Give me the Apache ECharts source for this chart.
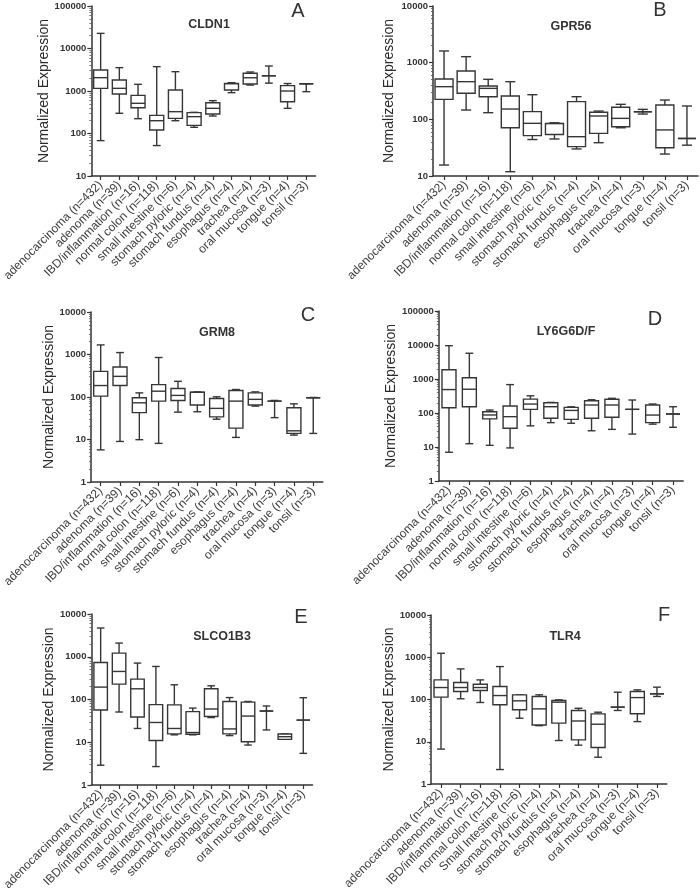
<!DOCTYPE html>
<html>
<head>
<meta charset="utf-8">
<script src="https://cdn.jsdelivr.net/npm/echarts@6/dist/echarts.min.js"></script>
<style>
html,body{margin:0;padding:0;background:#fff;}
#chart{width:700px;height:896px;}
</style>
</head>
<body>
<div id="chart"></div>
<script>
// ---- Categories ----
const categories = ['adenocarcinoma (n=432)','adenoma (n=39)','IBD/inflammation (n=16)','normal colon (n=118)','small intestine (n=6)','stomach pyloric (n=4)','stomach fundus (n=4)','esophagus (n=4)','trachea (n=4)','oral mucosa (n=3)','tongue (n=4)','tonsil (n=3)'];
const categoriesF = ['adenocarcinoma (n=432)','adenoma (n=39)','IBD/inflammation (n=16)','normal colon (n=118)','Small Intestine (n=6)','stomach pyloric (n=4)','stomach fundus (n=4)','esophagus (n=4)','trachea (n=4)','oral mucosa (n=3)','tongue (n=4)','tonsil (n=3)'];

// ---- Series values: [min, Q1, median, Q3, max] per category ----
const cldn1 = [[68,1155,2060,3120,22700],[299,850,1155,1815,3540],[223,405,513,790,1435],[52,121,200,267,3740],[200,227,326,1056,2850],[140,155,249,310,315],[258,288,391,531,593],[914,1056,1480,1514,1570],[1380,1460,2050,2620,2800],[1530,2290,2290,2290,3870],[391,560,1000,1340,1500],[964,1480,1480,1480,1480]];
const gpr56 = [[15.6,225,377,515,1607],[146,288,462,713,1276],[131,251,352,387,508],[11.9,71,152,258,462],[44,51.5,85,137,272],[45,54,84,85,87],[30,33,49.4,205,251],[38.7,56.6,114.5,133,140],[71,74,104,163,184],[124,136,136,136,150],[24.4,31.6,65,179,219],[35,46,46,46,172]];
const grm8 = [[5.7,105,186,401,1680],[9,186,306,506,1110],[9.9,43,73,96,125],[8.1,80,137,196,850],[44,83,109,158,234],[45,65,129,130,132],[30,34,54,92.5,101],[11.2,18.5,80,142,150],[61,65,88,125,132],[32.7,80,80,80,83],[12.7,13.9,16,56,69],[13.9,96,96,96,97.5]];
const ly6g6d = [[7,143,489,1870,9550],[12.5,153,500,1093,5720],[11.2,67,87.5,109,122],[9.4,35.7,78,160,684],[41.8,128,183,256,320],[52,70,153,200,205],[50,65,119,146,152],[30,70,172,230,245],[33,75,172,253,270],[24,128,128,128,241],[47,52,87,172,184],[38,93,93,93,153]];
const slco1b3 = [[2.9,57,195,736,4700],[51,229,453,1218,2090],[21,39,178,300,711],[2.7,11,29,76,593],[14.9,15.7,21,75,221],[14.9,15.4,16.9,52,63],[37.8,40,60,178,209],[14.3,15.7,20.5,90,111],[8.6,10.3,41,87,90],[19.4,53.8,53.8,53.8,70.5],[11.7,11.7,13.5,15.6,15.6],[5.5,33,33,33,110]];
const tlr4 = [[6.7,114,192,291,1243],[104,155,192,252,530],[85,163,192,230,291],[2.2,75,124,203,602],[36,57,93,129,129],[24,25,60,118,129],[10.7,27.6,86.5,95,98],[8.3,11.1,31,55,62],[4.3,7.3,26,45.8,50],[55,66,66,66,149],[30,46,111,155,169],[118,136,136,136,196]];

// ---- Tick labels / axis ranges ----
const tickLabels = ['1','10','100','1000','10000','100000'];
const genes = ['CLDN1','GPR56','GRM8','LY6G6D/F','SLCO1B3','TLR4'];
const letters = ['A','B','C','D','E','F'];
const yMins = [10, 10, 1, 1, 1, 1];
const yMaxs = [100000, 10000, 10000, 100000, 10000, 10000];

// ---- Layout (positions & styles only) ----
const panels = [
  {left:84.4, top:6, width:231.2, height:170, nameGap:33, boxW:14, title:[209,25], letter:[298,11]},
  {left:433, top:6, width:265, height:170, nameGap:37, boxW:18, title:[571,27], letter:[660,10]},
  {left:85.1, top:312, width:237.8, height:170, nameGap:35, boxW:14, title:[217,333], letter:[308,315]},
  {left:438.8, top:311, width:244.4, height:170, nameGap:38, boxW:14, title:[566,332], letter:[655,319]},
  {left:84.5, top:614, width:228, height:171, nameGap:35, boxW:13.5, title:[222,637], letter:[301,617]},
  {left:431.2, top:615, width:235.6, height:169, nameGap:32, boxW:14, title:[565,637], letter:[664,615]}
];
const dataSets = [cldn1, gpr56, grm8, ly6g6d, slco1b3, tlr4];
const catSets = [categories, categories, categories, categories, categories, categoriesF];

const LINE = '#363636';
const FONT = '"Liberation Sans", Arial, sans-serif';

function makeRender(boxW) {
  return function (params, api) {
    const x = api.value(0);
    const vals = [api.value(1), api.value(2), api.value(3), api.value(4), api.value(5)];
    const p = vals.map(v => api.coord([x, v]));
    const cx = p[0][0];
    const yMin = p[0][1], yQ1 = p[1][1], yMed = p[2][1], yQ3 = p[3][1], yMax = p[4][1];
    const hw = boxW / 2, cw = boxW * 0.28;
    const ls = {stroke: LINE, lineWidth: 1.4, fill: null};
    return {
      type: 'group',
      children: [
        {type:'line', shape:{x1:cx, y1:yMin, x2:cx, y2:yQ1}, style:ls},
        {type:'line', shape:{x1:cx, y1:yQ3, x2:cx, y2:yMax}, style:ls},
        {type:'line', shape:{x1:cx-cw, y1:yMin, x2:cx+cw, y2:yMin}, style:ls},
        {type:'line', shape:{x1:cx-cw, y1:yMax, x2:cx+cw, y2:yMax}, style:ls},
        {type:'rect', shape:{x:cx-hw, y:yQ3, width:boxW, height:Math.max(yQ1-yQ3,0)}, style:{stroke:LINE, lineWidth:1.4, fill:'#fff'}},
        {type:'line', shape:{x1:cx-hw, y1:yMed, x2:cx+hw, y2:yMed}, style:ls}
      ]
    };
  };
}

const grid = [], xAxis = [], yAxis = [], series = [], graphic = [];
panels.forEach((pn, i) => {
  grid.push({left: pn.left, top: pn.top, width: pn.width, height: pn.height});
  xAxis.push({
    type: 'category', gridIndex: i, data: catSets[i], boundaryGap: true,
    axisLine: {show: true, lineStyle: {color: '#333', width: 1.5}},
    axisTick: {show: true, alignWithLabel: true, length: 4, lineStyle: {color: '#333', width: 1.2}},
    axisLabel: {interval: 0, rotate: 45, fontSize: 12, color: '#3c3c3c', margin: 7, fontFamily: FONT},
    splitLine: {show: false}
  });
  yAxis.push({
    type: 'log', logBase: 10, gridIndex: i, min: yMins[i], max: yMaxs[i],
    axisLine: {show: true, lineStyle: {color: '#333', width: 1.5}},
    axisTick: {show: true, length: 4, lineStyle: {color: '#333', width: 1.2}},
    minorTick: {show: true, splitNumber: 9, length: 2, lineStyle: {color: '#555', width: 0.8}},
    splitLine: {show: false},
    axisLabel: {fontSize: 9.5, fontWeight: 'bold', color: '#333', margin: 5, fontFamily: FONT,
      formatter: v => tickLabels[Math.round(Math.log10(v))]},
    name: 'Normalized Expression', nameLocation: 'middle', nameGap: pn.nameGap,
    nameTextStyle: {fontSize: 14, color: '#2a2a2a', fontFamily: FONT}
  });
  series.push({
    type: 'custom', xAxisIndex: i, yAxisIndex: i,
    data: dataSets[i].map((d, k) => [k, d[0], d[1], d[2], d[3], d[4]]),
    encode: {x: 0, y: [1, 2, 3, 4, 5]},
    renderItem: makeRender(pn.boxW),
    silent: true, animation: false
  });
  graphic.push({type: 'text', x: pn.title[0], y: pn.title[1],
    style: {text: genes[i], align: 'center', verticalAlign: 'middle', font: 'bold 12.5px ' + FONT, fill: '#333'}});
  graphic.push({type: 'text', x: pn.letter[0], y: pn.letter[1],
    style: {text: letters[i], align: 'center', verticalAlign: 'middle', font: '20px ' + FONT, fill: '#333'}});
});

const chart = echarts.init(document.getElementById('chart'), null, {renderer: 'canvas'});
chart.setOption({
  animation: false,
  backgroundColor: '#fff',
  textStyle: {fontFamily: FONT},
  grid, xAxis, yAxis, series, graphic
});
</script>
</body>
</html>
